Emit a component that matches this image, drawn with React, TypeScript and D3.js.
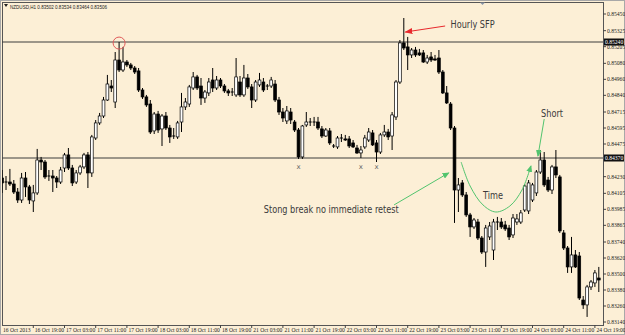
import React from 'react';
import * as d3 from 'd3';

// H1 bars, index 0 = first visible bar (8 bars before "16 Oct 19:00")
const FIRST_BAR = -8;
const opens = [
  0.84220, 0.84190, 0.84190, 0.84175, 0.84115, 0.84055, 0.84220, 0.84153, 0.84048, 0.84108,
  0.84355, 0.84340, 0.84228, 0.84235, 0.84220, 0.84190, 0.84295, 0.84393, 0.84295, 0.84190,
  0.84258, 0.84303, 0.84393, 0.84258, 0.84520, 0.84633, 0.84685, 0.84805, 0.84910, 0.84790,
  0.85105, 0.85030, 0.85090, 0.85068, 0.85045, 0.85023, 0.84880, 0.84828, 0.84775, 0.84573,
  0.84700, 0.84588, 0.84685, 0.84595, 0.84535, 0.84528, 0.84640, 0.84753, 0.84775, 0.84895,
  0.84978, 0.84910, 0.84820, 0.84858, 0.84955, 0.84895, 0.84955, 0.84910, 0.84873, 0.84858,
  0.84843, 0.84940, 0.84843, 0.84970, 0.84903, 0.84805, 0.84918, 0.84940, 0.84903, 0.84910,
  0.84925, 0.84805, 0.84715, 0.84648, 0.84715, 0.84640, 0.84580, 0.84378, 0.84618, 0.84633,
  0.84640, 0.84640, 0.84588, 0.84535, 0.84573, 0.84460, 0.84453, 0.84520, 0.84513, 0.84513,
  0.84483, 0.84445, 0.84408, 0.84453, 0.84505, 0.84558, 0.84483, 0.84415, 0.84543, 0.84565,
  0.84535, 0.84678, 0.84940, 0.85233, 0.85203, 0.85143, 0.85180, 0.85158, 0.85158, 0.85090,
  0.85128, 0.85113, 0.85120, 0.85015, 0.84858, 0.84775, 0.84595, 0.84130, 0.84183, 0.84093,
  0.83943, 0.83853, 0.83890, 0.83770, 0.83665, 0.83778, 0.83680, 0.83883, 0.83890, 0.83868,
  0.83845, 0.83793, 0.83890, 0.83890, 0.83980, 0.83973, 0.84055, 0.84108, 0.84265, 0.84355,
  0.84205, 0.84130, 0.84303, 0.84228, 0.83808, 0.83695, 0.83553, 0.83643, 0.83635, 0.83305,
  0.83268, 0.83403, 0.83433, 0.83470,
];
const highs = [
  0.84280, 0.84235, 0.84288, 0.84205, 0.84145, 0.84258, 0.84265, 0.84168, 0.84168, 0.84438,
  0.84378, 0.84355, 0.84280, 0.84280, 0.84235, 0.84303, 0.84408, 0.84445, 0.84318, 0.84280,
  0.84318, 0.84408, 0.84415, 0.84543, 0.84655, 0.84708, 0.84828, 0.84993, 0.84955, 0.85165,
  0.85240, 0.85203, 0.85105, 0.85083, 0.85060, 0.85045, 0.84895, 0.84843, 0.84805, 0.84715,
  0.84723, 0.84700, 0.84715, 0.84618, 0.84595, 0.84648, 0.84858, 0.84820, 0.84918, 0.85015,
  0.84993, 0.84970, 0.84880, 0.84970, 0.85045, 0.84985, 0.84970, 0.84925, 0.84888, 0.84895,
  0.85120, 0.84985, 0.85068, 0.85000, 0.84925, 0.84955, 0.85008, 0.84970, 0.84925, 0.84978,
  0.84955, 0.84828, 0.84745, 0.84760, 0.84745, 0.84655, 0.84595, 0.84618, 0.84715, 0.84670,
  0.84678, 0.84678, 0.84610, 0.84595, 0.84595, 0.84475, 0.84535, 0.84550, 0.84543, 0.84535,
  0.84505, 0.84468, 0.84460, 0.84543, 0.84595, 0.84580, 0.84505, 0.84558, 0.84618, 0.84588,
  0.84715, 0.84955, 0.85255, 0.85420, 0.85278, 0.85195, 0.85203, 0.85188, 0.85180, 0.85143,
  0.85165, 0.85143, 0.85180, 0.85030, 0.84910, 0.84790, 0.84610, 0.84220, 0.84205, 0.84115,
  0.83958, 0.83920, 0.83913, 0.83785, 0.83868, 0.83890, 0.83913, 0.83928, 0.83920, 0.83898,
  0.83868, 0.83950, 0.83950, 0.83980, 0.84175, 0.84205, 0.84183, 0.84280, 0.84430, 0.84415,
  0.84228, 0.84318, 0.84430, 0.84243, 0.83830, 0.83710, 0.83778, 0.83680, 0.83665, 0.83335,
  0.83418, 0.83455, 0.83530, 0.83553,
];
const lows = [
  0.84108, 0.84130, 0.84160, 0.84100, 0.84033, 0.84033, 0.84078, 0.84025, 0.83965, 0.84093,
  0.84280, 0.84213, 0.84198, 0.84115, 0.84145, 0.84175, 0.84265, 0.84280, 0.84160, 0.84175,
  0.84243, 0.84288, 0.84145, 0.84228, 0.84505, 0.84618, 0.84670, 0.84798, 0.84865, 0.84745,
  0.85015, 0.85015, 0.85053, 0.85030, 0.85000, 0.84865, 0.84813, 0.84753, 0.84550, 0.84550,
  0.84558, 0.84460, 0.84580, 0.84483, 0.84513, 0.84513, 0.84565, 0.84730, 0.84753, 0.84880,
  0.84880, 0.84768, 0.84783, 0.84835, 0.84865, 0.84880, 0.84895, 0.84858, 0.84835, 0.84835,
  0.84828, 0.84828, 0.84828, 0.84888, 0.84745, 0.84790, 0.84903, 0.84865, 0.84880, 0.84895,
  0.84790, 0.84693, 0.84640, 0.84625, 0.84625, 0.84565, 0.84363, 0.84363, 0.84603, 0.84610,
  0.84610, 0.84580, 0.84520, 0.84528, 0.84468, 0.84445, 0.84438, 0.84490, 0.84498, 0.84445,
  0.84445, 0.84400, 0.84370, 0.84438, 0.84490, 0.84460, 0.84340, 0.84400, 0.84528, 0.84505,
  0.84430, 0.84655, 0.84925, 0.85180, 0.85030, 0.85120, 0.85128, 0.85135, 0.85083, 0.85075,
  0.85090, 0.85098, 0.85000, 0.84850, 0.84775, 0.84580, 0.83883, 0.83965, 0.84078, 0.83928,
  0.83778, 0.83838, 0.83755, 0.83650, 0.83553, 0.83755, 0.83605, 0.83830, 0.83838, 0.83823,
  0.83755, 0.83770, 0.83868, 0.83875, 0.83965, 0.83950, 0.84040, 0.84085, 0.84250, 0.84153,
  0.84115, 0.84100, 0.84220, 0.83808, 0.83680, 0.83508, 0.83508, 0.83545, 0.83305, 0.83238,
  0.83178, 0.83380, 0.83403, 0.83365,
];
const closes = [
  0.84183, 0.84183, 0.84175, 0.84115, 0.84055, 0.84220, 0.84153, 0.84055, 0.84108, 0.84355,
  0.84340, 0.84228, 0.84235, 0.84220, 0.84190, 0.84280, 0.84393, 0.84295, 0.84183, 0.84258,
  0.84303, 0.84393, 0.84258, 0.84528, 0.84633, 0.84685, 0.84805, 0.84925, 0.84895, 0.85105,
  0.85030, 0.85090, 0.85068, 0.85045, 0.85015, 0.84880, 0.84828, 0.84768, 0.84565, 0.84700,
  0.84580, 0.84685, 0.84595, 0.84528, 0.84528, 0.84633, 0.84753, 0.84790, 0.84903, 0.84978,
  0.84895, 0.84820, 0.84865, 0.84940, 0.84895, 0.84955, 0.84910, 0.84873, 0.84858, 0.84865,
  0.84978, 0.84843, 0.84970, 0.84903, 0.84805, 0.84940, 0.84955, 0.84880, 0.84910, 0.84955,
  0.84805, 0.84715, 0.84670, 0.84723, 0.84655, 0.84580, 0.84378, 0.84610, 0.84640, 0.84640,
  0.84633, 0.84595, 0.84535, 0.84580, 0.84483, 0.84453, 0.84520, 0.84513, 0.84505, 0.84460,
  0.84453, 0.84408, 0.84430, 0.84520, 0.84565, 0.84468, 0.84415, 0.84543, 0.84565, 0.84528,
  0.84693, 0.84940, 0.85233, 0.85195, 0.85143, 0.85180, 0.85143, 0.85143, 0.85090, 0.85120,
  0.85105, 0.85105, 0.85015, 0.84858, 0.84783, 0.84595, 0.84130, 0.84168, 0.84093, 0.83943,
  0.83853, 0.83905, 0.83770, 0.83665, 0.83845, 0.83860, 0.83890, 0.83890, 0.83853, 0.83838,
  0.83778, 0.83920, 0.83913, 0.83958, 0.84160, 0.84183, 0.84168, 0.84265, 0.84355, 0.84168,
  0.84130, 0.84303, 0.84243, 0.83823, 0.83695, 0.83553, 0.83643, 0.83553, 0.83320, 0.83268,
  0.83403, 0.83440, 0.83508, 0.83455,
];

const priceTicks = [
  0.85450, 0.85325, 0.85205, 0.85080, 0.84960, 0.84840, 0.84715, 0.84595, 0.84475, 0.84355,
  0.84230, 0.84105, 0.83985, 0.83865, 0.83740, 0.83620, 0.83500, 0.83380, 0.83260, 0.83140,
];
const timeTickBars = [0, 8, 16, 24, 32, 40, 48, 56, 64, 72, 80, 88, 96, 104, 112, 120, 128, 136, 144];
const timeTickLabels = [
  '16 Oct 19:00', '17 Oct 03:00', '17 Oct 11:00', '17 Oct 19:00', '18 Oct 03:00', '18 Oct 11:00',
  '18 Oct 19:00', '21 Oct 03:00', '21 Oct 11:00', '21 Oct 19:00', '22 Oct 03:00', '22 Oct 11:00',
  '22 Oct 19:00', '23 Oct 03:00', '23 Oct 11:00', '23 Oct 19:00', '24 Oct 03:00', '24 Oct 11:00',
  '24 Oct 19:00',
];
const firstLabel = '16 Oct 2013';
const levels = [0.85240, 0.84370];
const levelLabels = ['0.85240', '0.84370'];
const headerText = 'NZDUSD,H1  0.83502 0.83534 0.83464 0.83506';

// annotations in (bar, price) space
const circleAt = [22, 0.85232];
const sfpArrow = [[105.6, 0.85360], [95.4, 0.85315]];
const sfpLabel = [107.0, 0.85345];
const shortLabel = [130.2, 0.84678];
const shortArrow = [[131.0, 0.84662], [129.4, 0.84385]];
const breakArrow = [[92.5, 0.84018], [106.5, 0.84258]];
const breakLabel = [59.1, 0.83958];
const timeLabel = [115.3, 0.84063];
const timeCurve = [
  [109.7, 0.84340], [112.0, 0.84160], [115.3, 0.84018], [118.6, 0.83965],
  [122.2, 0.84010], [125.3, 0.84130], [127.6, 0.84310],
];
const xMarkBars = [68, 84, 88];
const xMarkPrice = 0.84290;

export default function App() {
  const W = 625, H = 335;
  const L = 2, R = 603, T = 2, B = 325;
  const x = d3.scaleLinear().domain([0, 144]).range([33.3, 594.9]);
  const y = d3.scaleLinear().domain([0.83140, 0.85450]).range([322, 14]);
  const bg = '#fcefd6';
  const green = '#52c46e';
  const red = '#e8282c';
  const txt = '#3a3a3a';
  const curvePath = d3.line<number[]>().x(d => x(d[0])).y(d => y(d[1])).curve(d3.curveCatmullRom)(timeCurve) || '';
  // a level's highlighted label covers any axis label right under it
  const hidden = (p: number) => levels.some(lv => Math.abs(y(lv) - y(p)) < 4);

  return (
    <svg width={W} height={H} style={{ position: 'absolute', left: 0, top: 0, background: bg }}
      xmlns="http://www.w3.org/2000/svg">
      <defs>
        <marker id="arRed" markerUnits="userSpaceOnUse" markerWidth="8" markerHeight="6" refX="7" refY="3" orient="auto">
          <path d="M0,0 L8,3 L0,6 z" fill={red} />
        </marker>
        <marker id="arGreen" markerUnits="userSpaceOnUse" markerWidth="7" markerHeight="6" refX="6" refY="3" orient="auto">
          <path d="M0,0 L7,3 L0,6 z" fill={green} />
        </marker>
        <clipPath id="plot"><rect x={L} y={T} width={R - L} height={B - T} /></clipPath>
      </defs>
      <rect x={0} y={0} width={W} height={H} fill={bg} />
      <rect x={0.5} y={0.5} width={W - 1} height={H - 1} fill="none" stroke="#a8a8a8" />
      <rect x={L + 0.5} y={T + 0.5} width={R - L} height={B - T} fill="none" stroke="#555" />

      {/* header */}
      <path d="M4,4 L8,4 L6,7 z" fill="#222" />
      <text x={10} y={8.5} fontSize={6} fontFamily="Liberation Sans, Arial, sans-serif" fill="#222"
        textLength={97} lengthAdjust="spacingAndGlyphs">{headerText}</text>
      <path d="M480,2.5 L485,2.5 L482.5,5 z" fill="#8a96a8" />

      {/* price axis */}
      {priceTicks.map((p, i) => (
        <g key={'pt' + i}>
          <line x1={R} x2={R + 3} y1={y(p)} y2={y(p)} stroke="#444" />
          {!hidden(p) && (
            <text x={R + 4} y={y(p) + 2} fontSize={5.6} fontFamily="Liberation Serif, serif" fill="#222">{p.toFixed(5)}</text>
          )}
        </g>
      ))}

      {/* time axis */}
      <text x={3} y={332} fontSize={5.6} fontFamily="Liberation Serif, serif" fill="#222">{firstLabel}</text>
      {timeTickBars.map((b, i) => (
        <g key={'tt' + i}>
          <line x1={x(b)} x2={x(b)} y1={B} y2={B + 3} stroke="#444" />
          <text x={x(b) + 1.5} y={332} fontSize={5.6} fontFamily="Liberation Serif, serif" fill="#222">{timeTickLabels[i]}</text>
        </g>
      ))}

      {/* horizontal levels */}
      {levels.map((lv, i) => (
        <line key={'lv' + i} x1={L} x2={R} y1={y(lv)} y2={y(lv)} stroke="#3c3c3c" strokeWidth={1} />
      ))}
      {levels.map((lv, i) => (
        <g key={'lb' + i}>
          <rect x={R + 1} y={y(lv) - 3.5} width={20} height={7} fill="#111" />
          <text x={R + 2} y={y(lv) + 2} fontSize={5.6} fontFamily="Liberation Serif, serif" fill="#fff">{levelLabels[i]}</text>
        </g>
      ))}

      {/* candles */}
      <g clipPath="url(#plot)">
        {opens.map((o, i) => {
          const k = i + FIRST_BAR;
          const cx = x(k);
          const c = closes[i];
          const bull = c >= o;
          const top = y(Math.max(o, c));
          const bot = y(Math.min(o, c));
          return (
            <g key={'c' + i}>
              <line x1={cx} x2={cx} y1={y(highs[i])} y2={y(lows[i])} stroke="#000" strokeWidth={1} />
              {bot - top < 1 ? (
                <line x1={cx - 1.5} x2={cx + 1.5} y1={top} y2={top} stroke="#000" strokeWidth={1} />
              ) : (
                <rect x={cx - 1.4} y={top} width={2.8} height={bot - top}
                  fill={bull ? '#fff' : '#000'} stroke="#000" strokeWidth={0.7} />
              )}
            </g>
          );
        })}
      </g>

      {/* annotations */}
      <circle cx={x(circleAt[0])} cy={y(circleAt[1])} r={6} fill="none" stroke="#e05a5a" strokeWidth={1} />
      <line x1={x(sfpArrow[0][0])} y1={y(sfpArrow[0][1])} x2={x(sfpArrow[1][0])} y2={y(sfpArrow[1][1])}
        stroke={red} strokeWidth={1} markerEnd="url(#arRed)" />
      <text x={x(sfpLabel[0])} y={y(sfpLabel[1])} fontSize={10} fontFamily="DejaVu Sans, sans-serif" fill={txt}
        textLength={44} lengthAdjust="spacingAndGlyphs">Hourly SFP</text>

      <text x={x(shortLabel[0])} y={y(shortLabel[1])} fontSize={10} fontFamily="DejaVu Sans, sans-serif" fill={txt}
        textLength={22} lengthAdjust="spacingAndGlyphs">Short</text>
      <line x1={x(shortArrow[0][0])} y1={y(shortArrow[0][1])} x2={x(shortArrow[1][0])} y2={y(shortArrow[1][1])}
        stroke={green} strokeWidth={1} markerEnd="url(#arGreen)" />

      <line x1={x(breakArrow[0][0])} y1={y(breakArrow[0][1])} x2={x(breakArrow[1][0])} y2={y(breakArrow[1][1])}
        stroke={green} strokeWidth={1} markerEnd="url(#arGreen)" />
      <text x={x(breakLabel[0])} y={y(breakLabel[1])} fontSize={10} fontFamily="DejaVu Sans, sans-serif" fill={txt}
        textLength={135} lengthAdjust="spacingAndGlyphs">Stong break no immediate retest</text>

      <path d={curvePath} fill="none" stroke={green} strokeWidth={1} markerEnd="url(#arGreen)" />
      <text x={x(timeLabel[0])} y={y(timeLabel[1])} fontSize={10} fontFamily="DejaVu Sans, sans-serif" fill={txt}
        textLength={20} lengthAdjust="spacingAndGlyphs">Time</text>

      {xMarkBars.map((b, i) => (
        <text key={'xm' + i} x={x(b)} y={y(xMarkPrice)} textAnchor="middle" fontSize={7}
          fontFamily="DejaVu Sans, sans-serif" fill="#666">x</text>
      ))}
    </svg>
  );
}
